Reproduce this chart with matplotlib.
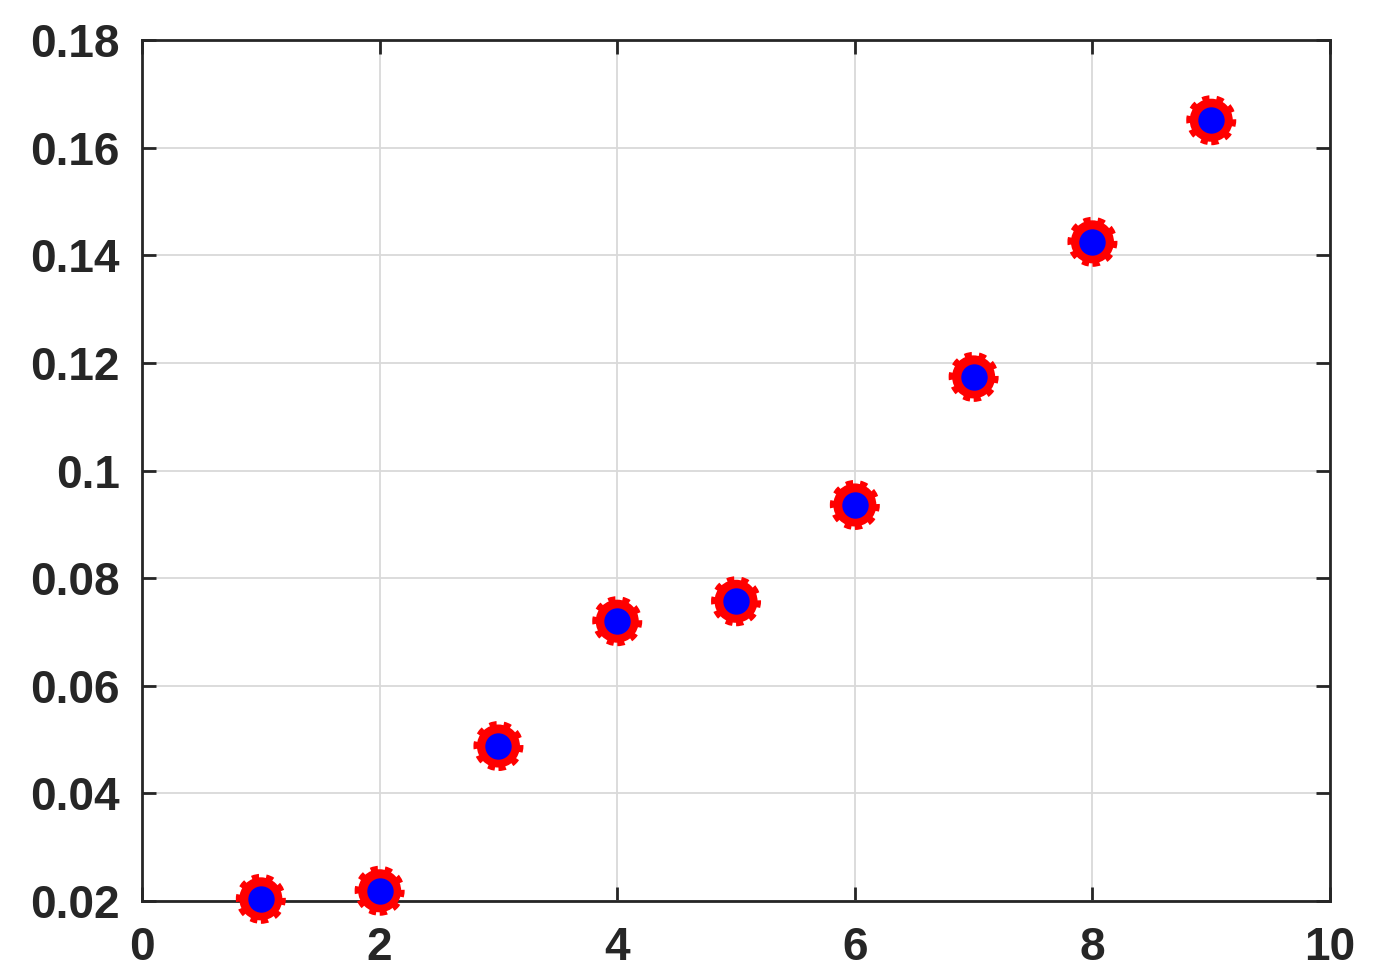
import matplotlib
matplotlib.use("Agg")
import matplotlib.pyplot as plt

x_vals = [1, 2, 3, 4, 5, 6, 7, 8, 9]
y_vals = [0.0204, 0.0219, 0.0488, 0.0720, 0.0757, 0.0936, 0.1174, 0.1425, 0.1651]
x_ticks = [0, 2, 4, 6, 8, 10]
y_ticks = [0.02, 0.04, 0.06, 0.08, 0.1, 0.12, 0.14, 0.16, 0.18]
y_labels = ["0.02", "0.04", "0.06", "0.08", "0.1", "0.12", "0.14", "0.16", "0.18"]

fig = plt.figure(figsize=(13.75, 9.77), dpi=100)
ax = fig.add_axes([0.1033, 0.0778, 0.8640, 0.8812])

# red disc with dotted fringe
ax.scatter(x_vals, y_vals, s=31**2, c="red", edgecolors="red",
           linewidths=5, linestyle=(0, (1, 1)), clip_on=False, zorder=3)
ax.plot(x_vals, y_vals, linestyle="none", marker="o", markersize=18,
        markerfacecolor="blue", markeredgecolor="blue", clip_on=False, zorder=4)

ax.set_xlim(0, 10)
ax.set_ylim(0.02, 0.18)
ax.set_xticks(x_ticks)
ax.set_xticklabels([str(t) for t in x_ticks])
ax.set_yticks(y_ticks)
ax.set_yticklabels(y_labels)

ax.grid(True, color="#d9d9d9", linewidth=1.3)
ax.set_axisbelow(True)
for s in ax.spines.values():
    s.set_linewidth(2)
    s.set_color("#262626")
ax.tick_params(direction="in", length=10, width=2, color="#262626",
               top=True, right=True, labelsize=33)
ax.tick_params(axis="x", pad=18)
ax.tick_params(axis="y", pad=16)
for lab in ax.get_xticklabels() + ax.get_yticklabels():
    lab.set_fontfamily("Liberation Sans")
    lab.set_fontweight("bold")
    lab.set_color("#262626")

fig.savefig("out.png", dpi=100)
